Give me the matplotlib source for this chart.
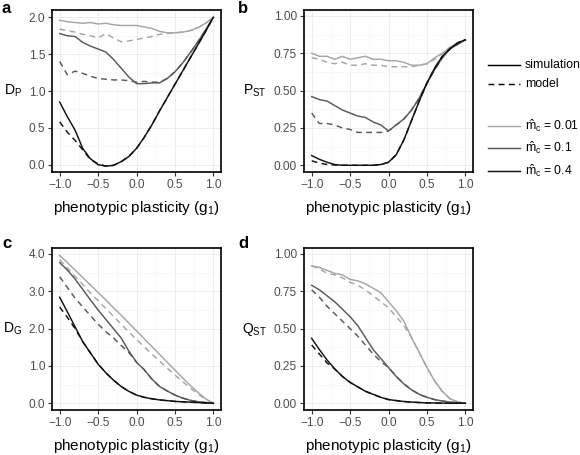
import numpy as np
import matplotlib
matplotlib.use("Agg")
import matplotlib.pyplot as plt
from matplotlib.lines import Line2D

plt.rcParams["font.family"] = ["Liberation Sans", "DejaVu Sans"]
plt.rcParams["mathtext.fontset"] = "custom"
plt.rcParams["mathtext.rm"] = "Liberation Sans"
plt.rcParams["mathtext.it"] = "Liberation Sans:italic"
plt.rcParams["mathtext.bf"] = "Liberation Sans:bold"

# plasticity g1
g1 = np.round(np.arange(-1.0, 1.01, 0.1), 2)

# ---- a: D_P ----
dp_sim_001 = [1.96, 1.94, 1.93, 1.92, 1.93, 1.91, 1.92, 1.90, 1.89, 1.89, 1.89,
              1.87, 1.85, 1.81, 1.79, 1.79, 1.80, 1.82, 1.86, 1.92, 2.00]
dp_mod_001 = [1.84, 1.82, 1.80, 1.77, 1.75, 1.72, 1.78, 1.72, 1.67, 1.68, 1.70,
              1.72, 1.74, 1.77, 1.78, 1.79, 1.80, 1.82, 1.86, 1.92, 2.00]
dp_sim_01 = [1.78, 1.75, 1.74, 1.66, 1.61, 1.57, 1.53, 1.43, 1.31, 1.19, 1.10,
             1.10, 1.11, 1.11, 1.17, 1.26, 1.38, 1.52, 1.67, 1.83, 2.00]
dp_mod_01 = [1.40, 1.22, 1.27, 1.24, 1.20, 1.17, 1.16, 1.15, 1.15, 1.14, 1.12,
             1.13, 1.12, 1.12, 1.17, 1.26, 1.38, 1.52, 1.67, 1.83, 2.00]
dp_sim_04 = [0.85, 0.65, 0.47, 0.22, 0.08, 0.00, -0.02, -0.01, 0.04, 0.11, 0.22,
             0.37, 0.54, 0.73, 0.91, 1.09, 1.27, 1.45, 1.63, 1.81, 2.00]
dp_mod_04 = [0.58, 0.44, 0.33, 0.20, 0.07, 0.01, -0.02, -0.01, 0.04, 0.11, 0.22,
             0.37, 0.54, 0.73, 0.91, 1.09, 1.27, 1.45, 1.63, 1.81, 2.00]

# ---- b: P_ST ----
pst_sim_001 = [0.75, 0.73, 0.73, 0.71, 0.73, 0.71, 0.72, 0.73, 0.71, 0.71, 0.70,
               0.70, 0.69, 0.67, 0.67, 0.68, 0.72, 0.75, 0.79, 0.82, 0.84]
pst_mod_001 = [0.72, 0.71, 0.69, 0.68, 0.69, 0.67, 0.67, 0.68, 0.67, 0.67, 0.66,
               0.66, 0.66, 0.66, 0.67, 0.68, 0.71, 0.75, 0.79, 0.82, 0.84]
pst_sim_01 = [0.46, 0.44, 0.43, 0.40, 0.37, 0.35, 0.33, 0.32, 0.29, 0.27, 0.23,
              0.27, 0.31, 0.37, 0.45, 0.55, 0.64, 0.72, 0.78, 0.81, 0.84]
pst_mod_01 = [0.35, 0.28, 0.28, 0.27, 0.25, 0.24, 0.22, 0.22, 0.22, 0.22, 0.23,
              0.27, 0.31, 0.37, 0.45, 0.55, 0.64, 0.72, 0.78, 0.81, 0.84]
pst_sim_04 = [0.065, 0.04, 0.02, 0.005, 0.0, 0.0, 0.0, 0.0, 0.0, 0.005, 0.02,
              0.07, 0.17, 0.30, 0.43, 0.55, 0.65, 0.73, 0.78, 0.82, 0.84]
pst_mod_04 = [0.03, 0.015, 0.005, 0.002, 0.0, 0.0, 0.0, 0.0, 0.0, 0.005, 0.02,
              0.07, 0.17, 0.30, 0.43, 0.55, 0.65, 0.73, 0.78, 0.82, 0.84]

# ---- c: D_G ----
dg_sim_001 = [3.96, 3.77, 3.57, 3.37, 3.17, 2.97, 2.77, 2.56, 2.36, 2.15, 1.94,
              1.73, 1.52, 1.31, 1.10, 0.89, 0.68, 0.48, 0.29, 0.12, 0.00]
dg_mod_001 = [3.85, 3.62, 3.40, 3.18, 2.96, 2.75, 2.54, 2.33, 2.12, 1.91, 1.71,
              1.51, 1.32, 1.13, 0.94, 0.76, 0.58, 0.41, 0.25, 0.10, 0.00]
dg_sim_01 = [3.77, 3.57, 3.33, 3.05, 2.77, 2.50, 2.25, 2.00, 1.75, 1.40, 1.10,
             0.90, 0.65, 0.45, 0.33, 0.22, 0.14, 0.08, 0.04, 0.02, 0.00]
dg_mod_01 = [3.39, 3.10, 2.82, 2.58, 2.35, 2.12, 1.92, 1.75, 1.55, 1.36, 1.10,
             0.90, 0.65, 0.45, 0.33, 0.22, 0.14, 0.08, 0.04, 0.02, 0.00]
dg_sim_04 = [2.84, 2.45, 2.05, 1.65, 1.35, 1.05, 0.82, 0.62, 0.45, 0.32, 0.22,
             0.16, 0.12, 0.09, 0.07, 0.05, 0.04, 0.03, 0.02, 0.01, 0.00]
dg_mod_04 = [2.58, 2.30, 2.00, 1.65, 1.35, 1.05, 0.82, 0.62, 0.45, 0.32, 0.22,
             0.16, 0.12, 0.09, 0.07, 0.05, 0.04, 0.03, 0.02, 0.01, 0.00]

# ---- d: Q_ST ----
qst_sim_001 = [0.92, 0.91, 0.89, 0.87, 0.86, 0.83, 0.82, 0.80, 0.77, 0.74, 0.68,
               0.62, 0.55, 0.44, 0.34, 0.24, 0.15, 0.08, 0.03, 0.01, 0.00]
qst_mod_001 = [0.92, 0.90, 0.87, 0.86, 0.84, 0.81, 0.79, 0.76, 0.72, 0.68, 0.64,
               0.58, 0.52, 0.44, 0.34, 0.24, 0.15, 0.08, 0.03, 0.01, 0.00]
qst_sim_01 = [0.79, 0.76, 0.72, 0.68, 0.63, 0.58, 0.52, 0.44, 0.36, 0.30, 0.24,
              0.18, 0.13, 0.09, 0.06, 0.04, 0.025, 0.015, 0.008, 0.003, 0.00]
qst_mod_01 = [0.76, 0.71, 0.65, 0.60, 0.55, 0.50, 0.45, 0.39, 0.33, 0.28, 0.24,
              0.18, 0.13, 0.09, 0.06, 0.04, 0.025, 0.015, 0.008, 0.003, 0.00]
qst_sim_04 = [0.435, 0.36, 0.29, 0.23, 0.18, 0.14, 0.11, 0.08, 0.06, 0.04, 0.025,
              0.018, 0.012, 0.008, 0.005, 0.003, 0.002, 0.001, 0.0, 0.0, 0.0]
qst_mod_04 = [0.39, 0.33, 0.27, 0.23, 0.18, 0.14, 0.11, 0.08, 0.06, 0.04, 0.025,
              0.018, 0.012, 0.008, 0.005, 0.003, 0.002, 0.001, 0.0, 0.0, 0.0]

mc_labels = ["0.01", "0.1", "0.4"]
mc_colors = ["#a6a6a6", "#595959", "#111111"]
xtick_vals = [-1.0, -0.5, 0.0, 0.5, 1.0]

panels = [
    ("a", r"D$_\mathrm{P}$", [dp_sim_001, dp_sim_01, dp_sim_04],
     [dp_mod_001, dp_mod_01, dp_mod_04], [0.0, 0.5, 1.0, 1.5, 2.0], "%.1f", (-0.1, 2.1)),
    ("b", r"P$_\mathrm{ST}$", [pst_sim_001, pst_sim_01, pst_sim_04],
     [pst_mod_001, pst_mod_01, pst_mod_04], [0, 0.25, 0.5, 0.75, 1.0], "%.2f", (-0.045, 1.04)),
    ("c", r"D$_\mathrm{G}$", [dg_sim_001, dg_sim_01, dg_sim_04],
     [dg_mod_001, dg_mod_01, dg_mod_04], [0, 1, 2, 3, 4], "%.1f", (-0.18, 4.16)),
    ("d", r"Q$_\mathrm{ST}$", [qst_sim_001, qst_sim_01, qst_sim_04],
     [qst_mod_001, qst_mod_01, qst_mod_04], [0, 0.25, 0.5, 0.75, 1.0], "%.2f", (-0.045, 1.04)),
]

W, H = 580, 455
# axes boxes in pixels: left, top, right, bottom
boxes = [(52, 10, 221, 172), (304, 10, 473, 172), (52, 248, 221, 410), (304, 248, 473, 410)]
letter_xy = [(2, 1), (238, 1), (2, 236), (238, 236)]

fig = plt.figure(figsize=(W / 100, H / 100), dpi=100)


def fmt_tick(v, fmt):
    return (fmt % v).replace("-", "\u2212")


for (letter, ylab, sims, mods, yticks, fmt, ylim), (l, t, r, b), (lx, ly) in zip(panels, boxes, letter_xy):
    ax = fig.add_axes([l / W, 1 - b / H, (r - l) / W, (b - t) / H])
    for sim, mod, col in zip(sims, mods, mc_colors):
        ax.plot(g1, mod, color=col, lw=1.05, ls=(0, (4, 3)))
        ax.plot(g1, sim, color=col, lw=1.05)
    ax.set_xlim(-1.1, 1.1)
    ax.set_ylim(*ylim)
    ax.set_xticks(xtick_vals)
    ax.set_xticklabels([fmt_tick(v, "%.1f") for v in xtick_vals])
    ax.set_yticks(yticks)
    ax.set_yticklabels([fmt_tick(v, fmt) for v in yticks])
    ax.set_xticks([-0.75, -0.25, 0.25, 0.75], minor=True)
    yt = np.array(yticks, dtype=float)
    ax.set_yticks((yt[:-1] + yt[1:]) / 2, minor=True)
    ax.grid(True, which="major", color="#ebebeb", lw=0.6)
    ax.grid(True, which="minor", color="#f3f3f3", lw=0.4)
    ax.set_axisbelow(True)
    ax.tick_params(which="major", direction="out", length=3, width=0.8,
                   color="#333333", labelcolor="#4d4d4d", labelsize=8.6, pad=2)
    ax.tick_params(which="minor", length=0)
    for s in ax.spines.values():
        s.set_linewidth(1.2)
        s.set_color("black")
    ax.set_xlabel(r"phenotypic plasticity (g$_1$)", fontsize=11, labelpad=6)
    ax.set_ylabel(ylab, fontsize=10, rotation=0, ha="right", va="center", labelpad=5)
    fig.text(lx / W, 1 - ly / H, letter, fontsize=12, fontweight="bold",
             ha="left", va="top")


# legend drawn by hand to mimic the separated linetype / colour keys
def key(y, ls, col, label):
    fig.add_artist(Line2D([488 / W, 520 / W], [1 - y / H, 1 - y / H], color=col,
                          lw=1.05, ls=ls, transform=fig.transFigure))
    fig.text(525 / W, 1 - y / H, label, fontsize=8.8, va="center", ha="left")


key(65, "-", "black", "simulation")
key(84, (0, (4, 3)), "black", "model")
for y, lab, col in zip([126, 148, 171], mc_labels, mc_colors):
    key(y, "-", col, r"$\hat{\mathrm{m}}_\mathrm{c}$ = " + lab)

fig.savefig("out.png", dpi=100)
